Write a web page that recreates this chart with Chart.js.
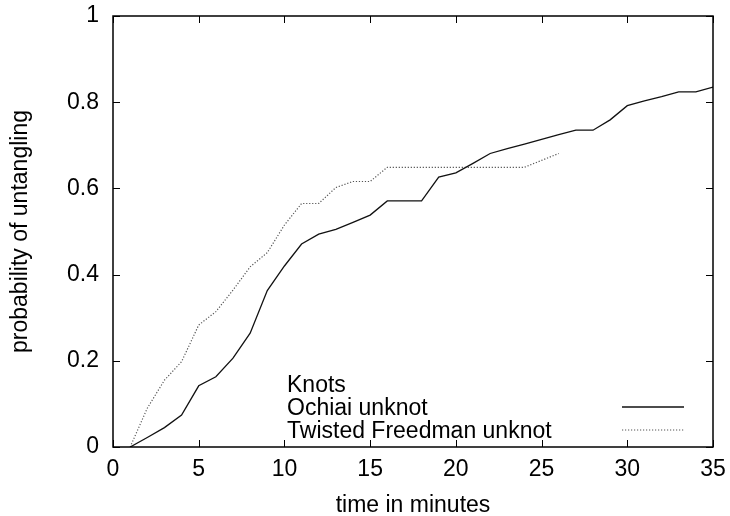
<!DOCTYPE html>
<html>
<head>
<meta charset="utf-8">
<script src="https://cdn.jsdelivr.net/npm/chart.js@4"></script>
<style>
html,body{margin:0;padding:0;background:#fff;}
#wrap{width:730px;height:516px;}
</style>
</head>
<body>
<div id="wrap"><canvas id="c" width="730" height="516"></canvas></div>
<script>
// ---- data ----
const legendTitle = 'Knots';
const seriesNames = ['Ochiai unknot', 'Twisted Freedman unknot'];
const ochiaiMinutes = [1,2,3,4,5,6,7,8,9,10,11,12,13,14,15,16,17,18,19,20,21,22,23,24,25,26,27,28,29,30,31,32,33,34,35];
const ochiaiValues  = [0,0.022,0.045,0.074,0.142,0.163,0.206,0.264,0.363,0.42,0.471,0.494,0.505,0.521,0.538,0.571,0.571,0.571,0.626,0.636,0.658,0.681,0.692,0.703,0.714,0.725,0.735,0.735,0.759,0.792,0.803,0.813,0.824,0.824,0.835];
const freedmanMinutes = [1,2,3,4,5,6,7,8,9,10,11,12,13,14,15,16,17,18,19,20,21,22,23,24,25,26];
const freedmanValues  = [0,0.09,0.155,0.198,0.283,0.314,0.364,0.418,0.451,0.515,0.565,0.565,0.602,0.616,0.616,0.649,0.649,0.649,0.649,0.649,0.649,0.649,0.649,0.649,0.665,0.681];
const xTickLabels = ['0','5','10','15','20','25','30','35'];
const yTickLabels = ['0','0.2','0.4','0.6','0.8','1'];
const xTitle = 'time in minutes';
const yTitle = 'probability of untangling';

const FONT = '"Liberation Sans", Arial, Helvetica, sans-serif';
const FS = 23;
const toPts = (xs, ys) => xs.map((x, i) => ({x: x, y: ys[i]}));

const frameAndTicks = {
  id: 'frameAndTicks',
  afterDraw(chart) {
    const ctx = chart.ctx, a = chart.chartArea;
    const xs = chart.scales.x, ys = chart.scales.y;
    const L = 7;
    ctx.save();
    ctx.strokeStyle = '#000';
    ctx.lineWidth = 1;
    ctx.beginPath();
    xs.ticks.forEach(t => {
      const px = Math.round(xs.getPixelForValue(t.value)) + 0.5;
      ctx.moveTo(px, a.bottom); ctx.lineTo(px, a.bottom - L);
      ctx.moveTo(px, a.top); ctx.lineTo(px, a.top + L);
    });
    ys.ticks.forEach(t => {
      const py = Math.round(ys.getPixelForValue(t.value)) + 0.5;
      ctx.moveTo(a.left, py); ctx.lineTo(a.left + L, py);
      ctx.moveTo(a.right, py); ctx.lineTo(a.right - L, py);
    });
    ctx.stroke();
    ctx.lineWidth = 1.5;
    ctx.strokeRect(Math.round(a.left), Math.round(a.top), Math.round(a.right - a.left), Math.round(a.bottom - a.top));
    // legend
    ctx.fillStyle = '#000';
    ctx.font = FS + 'px ' + FONT;
    ctx.textAlign = 'left';
    ctx.textBaseline = 'alphabetic';
    const tx = a.left + 174;
    ctx.fillText(legendTitle, tx, 392);
    const sx0 = a.right - 91, sx1 = a.right - 29;
    chart.data.datasets.forEach((ds, i) => {
      const base = 415 + i * 23;
      ctx.fillText(ds.label, tx, base);
      ctx.save();
      ctx.strokeStyle = ds.borderColor;
      ctx.lineWidth = ds.borderWidth;
      ctx.setLineDash(ds.borderDash || []);
      ctx.beginPath();
      const ly = base - 8;
      ctx.moveTo(sx0, ly); ctx.lineTo(sx1, ly);
      ctx.stroke();
      ctx.restore();
    });
    ctx.restore();
  }
};

new Chart(document.getElementById('c'), {
  type: 'line',
  data: {
    datasets: [
      { label: seriesNames[0], data: toPts(ochiaiMinutes, ochiaiValues), borderColor: '#111', borderWidth: 1.3, pointRadius: 0, tension: 0, fill: false },
      { label: seriesNames[1], data: toPts(freedmanMinutes, freedmanValues), borderColor: '#555', borderWidth: 1.2, borderDash: [1.2, 1.8], pointRadius: 0, tension: 0, fill: false }
    ]
  },
  options: {
    responsive: false,
    animation: false,
    devicePixelRatio: 1,
    layout: { padding: { left: 9, right: 17, top: 16, bottom: 0 } },
    plugins: { legend: { display: false }, tooltip: { enabled: false } },
    scales: {
      x: {
        type: 'linear', min: 0, max: 35,
        afterFit: s => { s.height = 69; s.paddingLeft = 0; s.paddingRight = 0; },
        ticks: { stepSize: 5, padding: 9, color: '#000', font: { family: FONT, size: FS }, maxRotation: 0,
                 callback: (v, i) => xTickLabels[i] },
        grid: { display: false, drawTicks: false },
        border: { display: false },
        title: { display: true, text: xTitle, color: '#000', font: { family: FONT, size: FS, lineHeight: 0.9 }, padding: 0 }
      },
      y: {
        type: 'linear', min: 0, max: 1,
        afterFit: s => { s.width = 104; s.paddingTop = 0; s.paddingBottom = 0; },
        ticks: { stepSize: 0.2, padding: 14, color: '#000', font: { family: FONT, size: FS },
                 callback: (v, i) => yTickLabels[i] },
        grid: { display: false, drawTicks: false },
        border: { display: false },
        title: { display: true, text: yTitle, color: '#000', font: { family: FONT, size: FS, lineHeight: 1 }, padding: 0 }
      }
    }
  },
  plugins: [frameAndTicks]
});
</script>
</body>
</html>
